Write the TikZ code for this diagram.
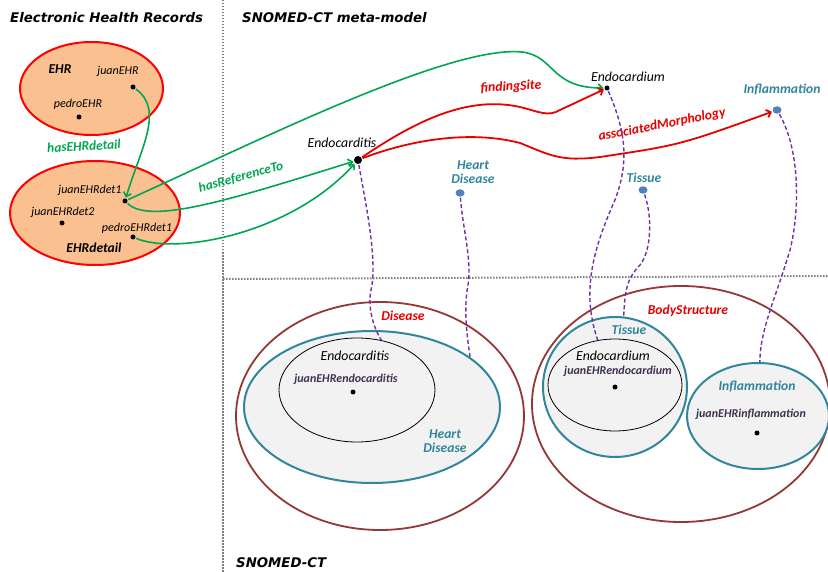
\documentclass[tikz,border=0pt]{standalone}
\usepackage{fontspec}
\setmainfont{Carlito}
\newfontfamily\verdfont{DejaVu Sans}
\usetikzlibrary{shapes.geometric,arrows.meta}
\definecolor{ehrgreen}{RGB}{0,166,81}
\definecolor{peach}{RGB}{250,192,144}
\definecolor{setbrown}{RGB}{149,55,53}
\definecolor{setteal}{RGB}{49,133,156}
\definecolor{linkpurple}{RGB}{112,48,160}
\definecolor{instpurple}{RGB}{64,49,82}
\definecolor{dotblue}{RGB}{79,129,189}
\definecolor{setgrey}{RGB}{242,242,242}
\definecolor{relred}{RGB}{230,0,0}

\begin{document}
\begin{tikzpicture}[x=1pt,y=-1pt,>={Straight Barb[length=4pt,width=8pt]}]
\tikzstyle{set} = [ellipse, inner sep=0pt]
\tikzstyle{dot} = [circle, fill=black, inner sep=0pt, minimum size=5pt, outer sep=1pt]
\tikzstyle{bluedot} = [ellipse, fill=dotblue, inner sep=0pt, minimum width=9pt, minimum height=7.5pt, outer sep=1pt]
\tikzstyle{txt} = [font=\itshape\fontsize{12}{14}\selectfont, inner sep=0pt]
\tikzstyle{bigtxt} = [font=\itshape\fontsize{13.8}{16}\selectfont, inner sep=0pt]
\tikzstyle{btxt} = [font=\bfseries\itshape\fontsize{13.6}{15}\selectfont, inner sep=0pt]
\tikzstyle{inst} = [font=\bfseries\itshape\fontsize{12}{14}\selectfont, text=instpurple, inner sep=0pt]
\tikzstyle{title} = [font=\verdfont\bfseries\itshape\fontsize{13.3}{15}\selectfont, anchor=west, inner sep=0pt]
\tikzstyle{gtxt} = [font=\bfseries\itshape\fontsize{13.4}{15}\selectfont, text=ehrgreen, inner sep=0pt]
\tikzstyle{grn} = [->, ehrgreen, line width=1.6pt]
\tikzstyle{rel} = [->, relred, line width=1.8pt]
\tikzstyle{link} = [linkpurple, line width=1.4pt, dash pattern=on 4pt off 2.5pt]
\tikzstyle{divider} = [gray, line width=2pt, dash pattern=on 1.5pt off 1.5pt]
\useasboundingbox (0,0) rectangle (828,572);

% dividers
\draw[divider] (223,0) -- (223,572);
\draw[divider] (223,279) -- (828,276);

\node[title] (ehrTitle) at (10,18) {Electronic Health Records};
\node[title] (metaTitle) at (242,18) {SNOMED-CT meta-model};
\node[title] (snoTitle) at (236,563) {SNOMED-CT};

% EHR sets
\node (ehrSet) [set, draw=red, fill=peach, line width=2pt, minimum width=143pt, minimum height=93pt] at (91.5,88.5) {};
\node (detSet) [set, draw=red, fill=peach, line width=2pt, minimum width=170pt, minimum height=104pt] at (95,213) {};
\node[btxt] (ehrLbl) at (60,69) {EHR};
\node[txt] (juanEHRLbl) at (118,71) {juanEHR};
\node[dot] (juanEHR) at (133,87) {};
\node[txt] (pedroEHRLbl) at (78,104) {pedroEHR};
\node[dot] (pedroEHR) at (79,117) {};
\node[txt] (juanDet1Lbl) at (90,190) {juanEHRdet1};
\node[dot] (juanDet1) at (125,201) {};
\node[txt] (juanDet2Lbl) at (63,212) {juanEHRdet2};
\node[dot] (juanDet2) at (62,223) {};
\node[txt] (pedroDet1Lbl) at (137,228) {pedroEHRdet1};
\node[dot] (pedroDet1) at (133,237) {};
\node[btxt] (detLbl) at (94,248) {EHRdetail};
\node[gtxt, rotate=3] (hasDetLbl) at (84,146) {hasEHRdetail};
\node[gtxt, rotate=15] (hasRefLbl) at (241,177) {hasReferenceTo};

% meta-model
\node[dot, minimum size=8pt] (endocarditis) at (358,160) {};
\node[bigtxt] (endocarditisLbl) at (342,143) {Endocarditis};
\node[dot] (endocardium) at (607,88) {};
\node[bigtxt] (endocardiumLbl) at (628,77) {Endocardium};
\node[bluedot] (inflDot) at (777,110) {};
\node[btxt, text=setteal] (inflLbl) at (782,90) {Inflammation};
\node[bluedot] (heartDot) at (460,193) {};
\node[btxt, text=setteal, align=center] (heartLbl) at (473,172) {Heart\\[-1pt]Disease};
\node[bluedot] (tissueDot) at (643,190) {};
\node[btxt, text=setteal] (tissueLbl) at (644,178) {Tissue};
\node[btxt, text=relred, rotate=3] (findLbl) at (511,87) {findingSite};
\node[btxt, text=relred, rotate=11] (morphLbl) at (662,125) {associatedMorphology};

% SNOMED-CT sets
\node (diseaseSet) [set, draw=setbrown, line width=1.8pt, minimum width=288pt, minimum height=228pt] at (380,416) {};
\node (heartSet) [set, draw=setteal, fill=setgrey, line width=2pt, minimum width=256pt, minimum height=152pt] at (372,407) {};
\node (endocarditisSet) [set, draw=black, line width=0.8pt, minimum width=156pt, minimum height=104pt] at (357,390) {};
\node (bodySet) [set, draw=setbrown, line width=1.8pt, minimum width=298pt, minimum height=236pt] at (681,404) {};
\node (tissueSet) [set, draw=setteal, fill=setgrey, line width=2pt, minimum width=144pt, minimum height=140pt] at (615,387) {};
\node (endocardiumSet) [set, draw=black, line width=0.8pt, minimum width=134pt, minimum height=92pt] at (615,385) {};
\node (inflSet) [set, draw=setteal, fill=setgrey, line width=2pt, minimum width=142pt, minimum height=106pt] at (758,416) {};

\node[btxt, text=relred] (diseaseLbl) at (403,316) {Disease};
\node[bigtxt] (endocarditisIn) at (355,356) {Endocarditis};
\node[inst] (juanEndoLbl) at (346,379) {juanEHRendocarditis};
\node[dot] (juanEndo) at (353,392) {};
\node[btxt, text=setteal, align=center] (heartIn) at (445,441) {Heart\\[-1pt]Disease};
\node[btxt, text=relred] (bodyLbl) at (688,311) {BodyStructure};
\node[btxt, text=setteal] (tissueIn) at (629,330) {Tissue};
\node[bigtxt] (endocardiumIn) at (613,356) {Endocardium};
\node[inst] (juanCardLbl) at (618,371) {juanEHRendocardium};
\node[dot] (juanCard) at (615,387) {};
\node[btxt, text=setteal] (inflIn) at (757,387) {Inflammation};
\node[inst] (juanInflLbl) at (751,414) {juanEHRinflammation};
\node[dot] (juanInfl) at (757,433) {};

% EHR links
\draw[grn] (juanEHR) .. controls (165,110) and (140,150) .. (juanDet1);
\draw[grn] (juanDet1) .. controls (150,225) and (230,200) .. (endocarditis);
\draw[grn] (pedroDet1) .. controls (175,255) and (290,235) .. (endocarditis);
\draw[grn] (juanDet1) .. controls (260,140) and (450,45) .. (522,52) .. controls (555,56) and (550,88) .. (endocardium);

% relations
\draw[rel] (endocarditis) .. controls (420,118) and (470,96) .. (520,107) .. controls (540,112) and (548,117) .. (560,110) -- (endocardium);
\draw[rel] (endocarditis) .. controls (410,140) and (470,130) .. (520,143) .. controls (550,155) and (560,162) .. (600,157) .. controls (680,145) .. (inflDot);

% instance links
\draw[link] (endocarditis) .. controls (365,200) and (378,260) .. (371,290) .. controls (367,310) and (375,330) .. (endocarditisSet.64);
\draw[link] (heartDot) .. controls (463,230) and (472,260) .. (468,285) .. controls (464,305) and (466,330) .. (heartSet.27);
\draw[link] (endocardium) .. controls (625,130) and (630,160) .. (615,200) .. controls (595,245) and (580,290) .. (endocardiumSet.111);
\draw[link] (tissueDot) .. controls (652,215) and (652,250) .. (640,265) .. controls (625,280) and (625,295) .. (tissueSet.83);
\draw[link] (inflDot) .. controls (800,150) and (800,210) .. (790,250) .. controls (775,300) and (760,330) .. (inflSet.88);
\end{tikzpicture}
\end{document}
